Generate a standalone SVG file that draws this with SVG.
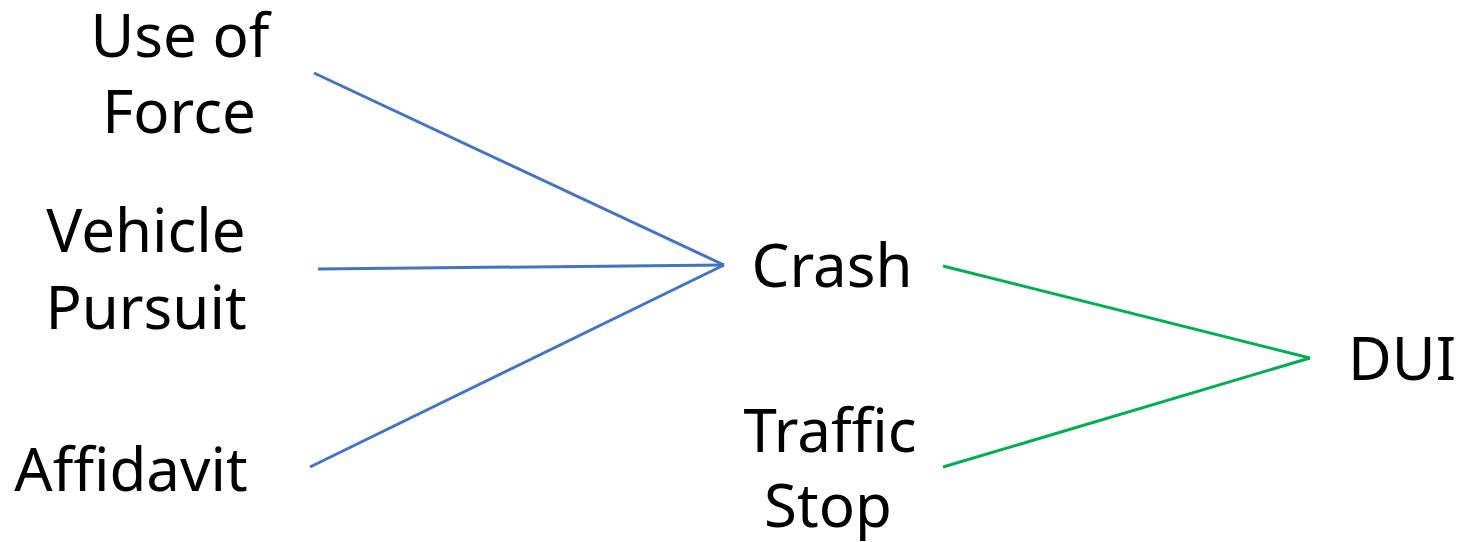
<svg xmlns="http://www.w3.org/2000/svg" width="1460" height="542" viewBox="0 0 1460 542">
<style>
text { font-family: "Noto Sans", "Open Sans", sans-serif; font-size: 60px; fill: #000; text-anchor: middle; }
.blue { stroke: #4472C4; stroke-width: 3; fill: none; }
.green { stroke: #00B050; stroke-width: 3; fill: none; }
</style>
<rect width="1460" height="542" fill="#fff"/>
<g id="connectors">
<line class="blue" x1="314" y1="73" x2="724" y2="265"/>
<line class="blue" x1="318" y1="269" x2="724" y2="265"/>
<line class="blue" x1="310" y1="467" x2="724" y2="265"/>
<line class="green" x1="943" y1="266" x2="1310" y2="358"/>
<line class="green" x1="943" y1="467" x2="1310" y2="358"/>
</g>
<g id="use-of-force"><text x="180" y="57">Use of</text><text x="179" y="133">Force</text></g>
<g id="vehicle-pursuit"><text x="146" y="252">Vehicle</text><text x="146" y="329">Pursuit</text></g>
<g id="affidavit"><text x="131" y="491">Affidavit</text></g>
<g id="crash"><text x="832" y="287">Crash</text></g>
<g id="traffic-stop"><text x="830" y="452">Traffic</text><text x="828" y="527">Stop</text></g>
<g id="dui"><text x="1402" y="380">DUI</text></g>
</svg>
